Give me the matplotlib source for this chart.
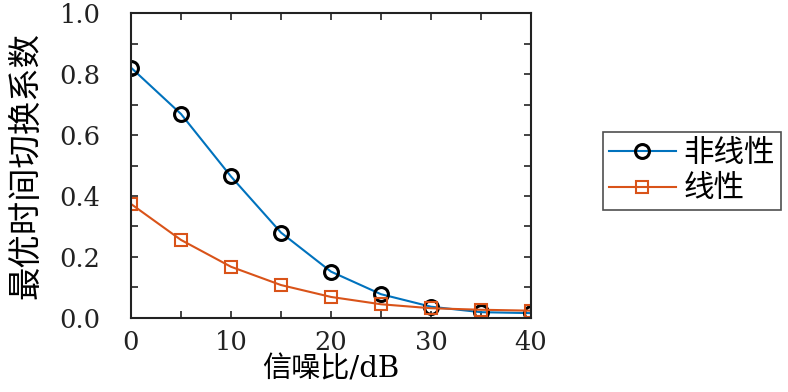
import matplotlib
matplotlib.use("Agg")
import matplotlib.pyplot as plt
from matplotlib.ticker import MultipleLocator, FormatStrFormatter

plt.rcParams["font.family"] = ["DejaVu Serif", "Noto Sans CJK SC"]

snr = [0, 5, 10, 15, 20, 25, 30, 35, 40]
nonlinear = [0.821, 0.669, 0.464, 0.280, 0.152, 0.078, 0.037, 0.019, 0.016]
linear = [0.374, 0.256, 0.168, 0.108, 0.069, 0.045, 0.032, 0.027, 0.024]
labels = ["非线性", "线性"]

BLUE = "#0072BD"
ORANGE = "#D95319"

fig = plt.figure(figsize=(7.88, 3.92), dpi=100)
ax = fig.add_axes([0.1662, 0.1888, 0.5077, 0.778])

ax.plot(snr, nonlinear, "-o", color=BLUE, lw=1.5, ms=10, mfc="none",
        mec="black", mew=2.2, label=labels[0])
ax.plot(snr, linear, "-s", color=ORANGE, lw=1.5, ms=8, mfc="none",
        mec=ORANGE, mew=1.5, label=labels[1])

ax.set_xlim(0, 40)
ax.set_ylim(0, 1.0)
ax.xaxis.set_major_locator(MultipleLocator(10))
ax.xaxis.set_minor_locator(MultipleLocator(5))
ax.yaxis.set_major_locator(MultipleLocator(0.2))
ax.yaxis.set_minor_locator(MultipleLocator(0.1))
ax.yaxis.set_major_formatter(FormatStrFormatter("%.1f"))
ax.tick_params(which="both", direction="in", top=True, right=True,
               labelsize=18.5, width=1.2, colors="#222222")
ax.tick_params(which="major", length=5)
ax.tick_params(which="minor", length=5)
ax.tick_params(axis="y", which="major", pad=22)
ax.tick_params(axis="x", which="major", pad=9)
for sp in ax.spines.values():
    sp.set_linewidth(1.5)
    sp.set_color("#222222")

ax.set_xlabel("信噪比/dB", fontsize=21, labelpad=0)
ax.set_ylabel("最优时间切换系数", fontsize=24, labelpad=12)

leg = ax.legend(loc="center left", bbox_to_anchor=(1.179, 0.482), fontsize=22,
                frameon=True, fancybox=False, edgecolor="#222222",
                handlelength=2.2, handletextpad=0.25, borderpad=0.2,
                labelspacing=0.15, borderaxespad=0)
leg.get_frame().set_linewidth(1.2)

fig.savefig("out.png", dpi=100)
